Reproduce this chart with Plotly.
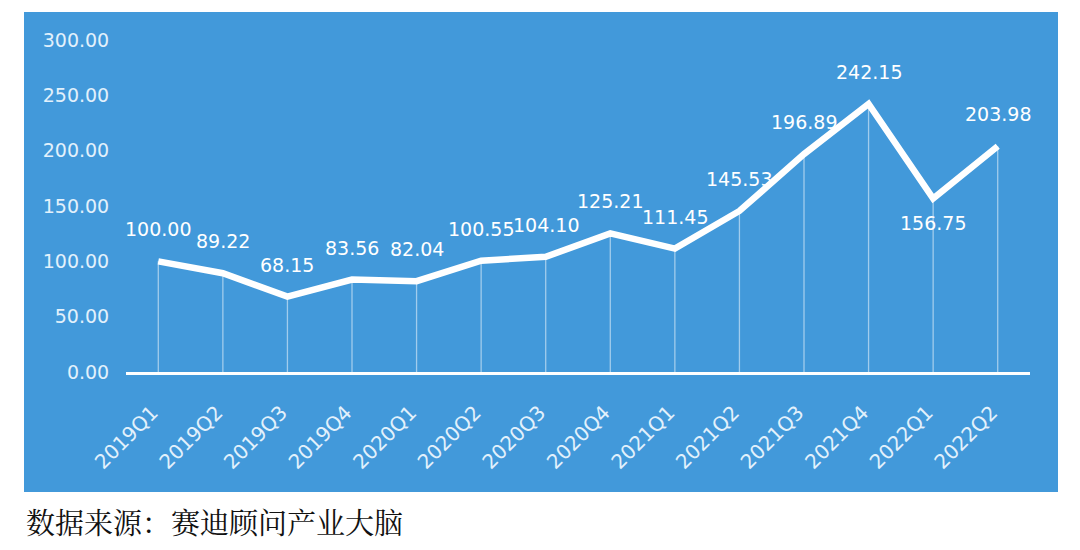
import plotly.graph_objects as go

categories = ["2019Q1", "2019Q2", "2019Q3", "2019Q4", "2020Q1", "2020Q2", "2020Q3",
              "2020Q4", "2021Q1", "2021Q2", "2021Q3", "2021Q4", "2022Q1", "2022Q2"]
values = [100.00, 89.22, 68.15, 83.56, 82.04, 100.55, 104.10,
          125.21, 111.45, 145.53, 196.89, 242.15, 156.75, 203.98]
label_below = [False] * 12 + [True, False]
y_ticks = [0, 50, 100, 150, 200, 250, 300]
source_text = "数据来源：赛迪顾问产业大脑"

BG = "#4299da"
TICK_COLOR = "#e2f1fc"
LIGHT_FONT = "DejaVu Sans ExtraLight, DejaVu Sans"

# page body has an 8px margin; work in screen pixels and subtract it
OFF = 8
W, H = 1080, 550
L = 126 - OFF
T = 40 - OFF
R = W - (1030 - OFF)
B = H - (372 - OFF)
pw = W - L - R
ph = H - T - B


def px_x(px):
    return (px - OFF - L) / pw


def px_y(py):
    return (H - B - (py - OFF)) / ph


fig = go.Figure()

fig.add_trace(go.Scatter(
    x=categories, y=values, mode="lines",
    line=dict(color="white", width=6.5),
    error_y=dict(type="data", symmetric=False, array=[0] * len(values),
                 arrayminus=values, width=0, thickness=1.3,
                 color="rgba(255,255,255,0.5)"),
    hoverinfo="skip", showlegend=False,
))

for c, v, below in zip(categories, values, label_below):
    fig.add_annotation(
        x=c, y=v, xref="x", yref="y", text=f"{v:.2f}", showarrow=False,
        yshift=-24 if below else 32,
        font=dict(family="DejaVu Sans", size=19, color="white"),
    )

fig.add_shape(type="rect", xref="paper", yref="paper",
              x0=px_x(24), x1=px_x(1058), y0=px_y(492), y1=px_y(12),
              fillcolor=BG, line=dict(width=0), layer="below")

fig.add_annotation(
    xref="paper", yref="paper", x=px_x(24), y=px_y(521),
    xanchor="left", yanchor="middle", showarrow=False,
    text=source_text,
    font=dict(family="Noto Serif CJK SC, Noto Sans CJK SC", size=29, color="#111111"),
)

fig.update_layout(
    width=W, height=H,
    margin=dict(l=L, r=R, t=T, b=B),
    paper_bgcolor="white", plot_bgcolor="rgba(0,0,0,0)",
    showlegend=False,
    xaxis=dict(
        type="category", range=[-0.5, len(categories) - 0.5],
        showgrid=False, zeroline=False,
        showline=True, linecolor="white", linewidth=3,
        tickangle=-45, ticks="outside", ticklen=18, tickcolor="rgba(0,0,0,0)",
        ticklabelshift=-6,
        tickfont=dict(family=LIGHT_FONT, size=20, color=TICK_COLOR),
    ),
    yaxis=dict(
        range=[0, 300], tickvals=y_ticks, tickformat=".2f",
        showgrid=False, zeroline=False, showline=False,
        ticks="outside", ticklen=12, tickcolor="rgba(0,0,0,0)",
        tickfont=dict(family=LIGHT_FONT, size=19, color=TICK_COLOR),
    ),
)

fig.write_html("out.html")
